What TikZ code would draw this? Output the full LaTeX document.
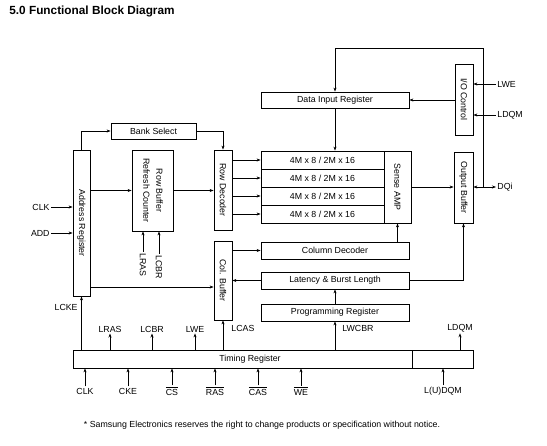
\documentclass[tikz,border=0pt]{standalone}
\usepackage{fontspec}
\setmainfont{Liberation Sans}
\usepackage{graphicx}
\usetikzlibrary{arrows.meta}

\newcommand\vtxt[1]{\rotatebox{-90}{#1}}
\newcommand\ovl[1]{\ensuremath{\overline{\hbox{#1}}}}
\renewcommand\arraystretch{1.3}

\begin{document}
\begin{tikzpicture}[x=1pt, y=-1pt, line width=0.8pt,
  >={Stealth[length=4pt,width=3pt]},
  every node/.style={font=\fontsize{8.8}{10}\selectfont, inner sep=1pt},
  blk/.style={draw, inner sep=0pt},
  arr/.style={minimum width=123, minimum height=18}]
  \useasboundingbox (0,0) rectangle (547,446);

  % title and note
  \node[anchor=west, font=\bfseries\fontsize{11.8}{14}\selectfont] (title) at (8,11.5)
    {5.0 Functional Block Diagram};
  \node (note) at (262,425)
    {* Samsung Electronics reserves the right to change products or specification without notice.};

  % blocks
  \node[blk, minimum width=85, minimum height=16] (bank) at (153.5,131) {Bank Select};
  \node[blk, minimum width=17, minimum height=146] (addr) at (81.5,223) {\vtxt{Address Register}};
  \node[blk, minimum width=41, minimum height=81] (rbuf) at (152.5,190.5)
    {\vtxt{\begin{tabular}{@{}c@{}}Row Buffer\\Refresh Counter\end{tabular}}};
  \node[blk, minimum width=18, minimum height=80] (rdec) at (223,190) {\vtxt{Row Decoder}};
  \node[blk, minimum width=18, minimum height=79] (cbuf) at (223,280.5) {\vtxt{Col. Buffer}};
  \node[blk, minimum width=148, minimum height=16] (din) at (335,100) {Data Input Register};
  \node[blk, minimum width=18, minimum height=71] (ioc) at (464,99.5) {\vtxt{I/O Control}};
  \foreach \i/\y in {1/160,2/178,3/196,4/214}
    \node[blk, arr] (cell\i) at (322.5,\y) {4M x 8 / 2M x 16};
  \node[blk, minimum width=27, minimum height=72] (samp) at (397.5,187) {\vtxt{Sense AMP}};
  \node[blk, minimum width=19, minimum height=71] (obuf) at (463.5,187.5) {\vtxt{Output Buffer}};
  \node[blk, minimum width=148, minimum height=17] (cdec) at (335,250.5) {Column Decoder};
  \node[blk, minimum width=148, minimum height=17] (lat) at (335,280.5) {Latency \& Burst Length};
  \node[blk, minimum width=148, minimum height=17] (preg) at (335,312.5) {Programming Register};
  \node[blk, minimum width=339, minimum height=18] (treg) at (242.5,359) {\hspace{15pt}Timing Register};
  \node[blk, minimum width=61, minimum height=18] (dqmb) at (442.5,359) {};

  % address side
  \node[left] (clk) at (51,207) {CLK};
  \node[left] (add) at (51,233) {ADD};
  \draw[->] (clk.east) -- (clk.east -| addr.west);
  \draw[->] (add.east) -- (add.east -| addr.west);
  \draw[->] (addr.north) |- (bank.west);
  \draw[->] (bank.east) -| (rdec.north);
  \draw[->] (addr.east |- rbuf.west) -- (rbuf.west);
  \draw[->] (rbuf.east) -- (rbuf.east -| rdec.west);
  \coordinate (acol) at ([yshift=-6.5pt]cbuf.west);
  \draw[->] (addr.east |- acol) -- (acol);
  \node[anchor=north] (lras) at (143,252) {\vtxt{LRAS}};
  \node[anchor=north] (lcbr) at (159,254) {\vtxt{LCBR}};
  \draw[->] (lras.north) -- (lras.north |- rbuf.south);
  \draw[->] (lcbr.north) -- (lcbr.north |- rbuf.south);

  % array
  \foreach \i in {1,...,4}
    \draw[->] (rdec.east |- cell\i.west) -- (cell\i.west);
  \draw[->] (din.south) -- (din.south |- cell1.north);
  \draw[->] (samp.east) -- (samp.east -| obuf.west);
  \draw[->] (cbuf.east |- cdec.west) -- (cdec.west);
  \draw[->] (cdec.north -| samp.south) -- (samp.south);
  \draw[->] (lat.west) -- (lat.west -| cbuf.east);
  \draw[->] (lat.east) -| (obuf.south);
  \draw[->] (preg.north) -- (lat.south);

  % data side
  \node[right] (lwe) at (496,84) {LWE};
  \node[right] (ldqm) at (496,115) {LDQM};
  \node[right] (dqi) at (496,187) {DQi};
  \draw[->] (lwe.west) -- (lwe.west -| ioc.east);
  \draw[->] (ldqm.west) -- (ldqm.west -| ioc.east);
  \draw[->] (ioc.west |- din.east) -- (din.east);
  \draw[<->] (dqi.west -| obuf.east) -- (dqi.west);
  \coordinate (fb) at (483,187);
  \coordinate (fbtop) at (483,48);
  \draw[->] (fb) -- (fbtop) -| (din.north);

  % timing outputs
  \node[left] (lcke) at (79,307) {LCKE};
  \draw[->] (addr.south |- treg.north) -- (addr.south);
  \node (tlras) at (110,329) {LRAS};
  \node (tlcbr) at (152,329) {LCBR};
  \node (tlwe) at (195,329) {LWE};
  \foreach \n in {tlras,tlcbr,tlwe}
    \draw[->] (\n.south |- treg.north) -- (\n.south);
  \node[right] (lcas) at (230,328) {LCAS};
  \draw[->] (cbuf.south |- treg.north) -- (cbuf.south);
  \node[right] (lwcbr) at (341,328) {LWCBR};
  \draw[->] (preg.south |- treg.north) -- (preg.south);
  \node (tldqm) at (460,328) {LDQM};
  \draw[->] (tldqm.south |- dqmb.north) -- (tldqm.south);

  % timing inputs
  \node (iclk) at (85,391) {CLK};
  \node (icke) at (128,391) {CKE};
  \node (ics) at (172,391) {\ovl{CS}};
  \node (iras) at (215,391) {\ovl{RAS}};
  \node (icas) at (258,391) {\ovl{CAS}};
  \node (iwe) at (301,391) {\ovl{WE}};
  \foreach \n in {iclk,icke,ics,iras,icas,iwe}
    \draw[->] (\n.north) -- (\n.north |- treg.south);
  \node (idqm) at (443,391) {L(U)DQM};
  \draw[->] (idqm.north) -- (idqm.north |- dqmb.south);
\end{tikzpicture}
\end{document}
